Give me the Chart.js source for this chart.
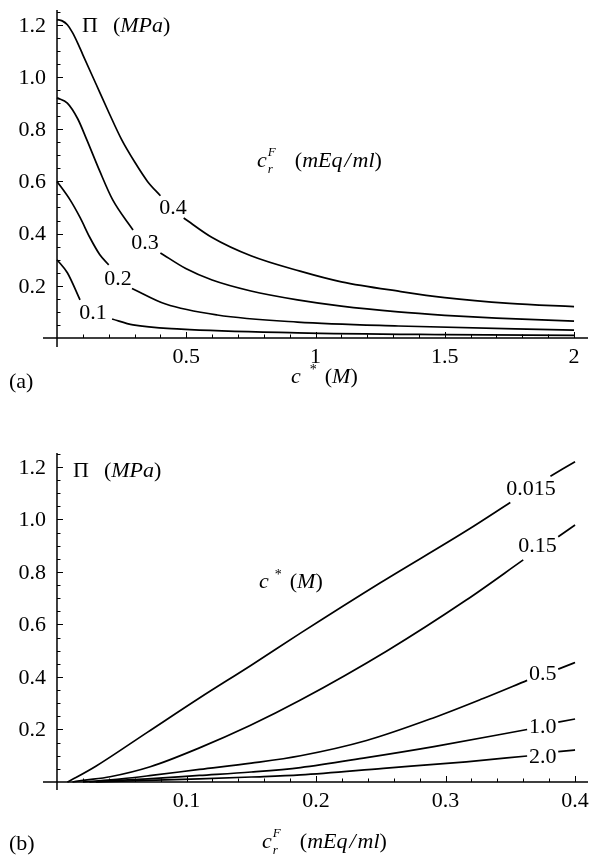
<!DOCTYPE html>
<html>
<head>
<meta charset="UTF-8">
<title>Osmotic pressure curves</title>
<script src="https://cdn.jsdelivr.net/npm/chart.js"></script>
<style>
  body { margin: 0; background: #fff; }
  .panel { position: absolute; left: 0; }
  #wrapA { top: 0; }
  #wrapB { top: 433px; }
</style>
</head>
<body>
<div class="panel" id="wrapA"><canvas id="chartA" width="602" height="433"></canvas></div>
<div class="panel" id="wrapB"><canvas id="chartB" width="602" height="434"></canvas></div>
<script>
// ---- panel (a): Π (MPa) vs c* (M), one curve per c_r^F (mEq/ml)
const aNames = ['0.1', '0.2', '0.3', '0.4'];
const aCurve01x = [0, 0.04, 0.089, null, 0.213, 0.294, 0.48, 0.93, 1.5, 2.0];
const aCurve01y = [0.30, 0.25, 0.146, null, 0.073, 0.050, 0.034, 0.020, 0.013, 0.010];
const aCurve02x = [0, 0.05, 0.09, 0.127, 0.165, 0.20, null, 0.29, 0.42, 0.62, 0.93, 1.32, 2.0];
const aCurve02y = [0.60, 0.53, 0.46, 0.385, 0.32, 0.28, null, 0.19, 0.13, 0.088, 0.061, 0.046, 0.030];
const aCurve03x = [0, 0.04, 0.08, 0.115, 0.165, 0.215, 0.294, null, 0.40, 0.50, 0.60, 0.75, 0.93, 1.1, 1.32, 1.5, 1.7, 2.0];
const aCurve03y = [0.92, 0.90, 0.84, 0.76, 0.64, 0.53, 0.414, null, 0.326, 0.265, 0.222, 0.18, 0.146, 0.122, 0.10, 0.087, 0.076, 0.065];
const aCurve04x = [0, 0.02, 0.04, 0.06, 0.08, 0.10, 0.15, 0.20, 0.25, 0.30, 0.35, 0.40, null, 0.49, 0.60, 0.75, 0.94, 1.1, 1.33, 1.5, 1.75, 2.0];
const aCurve04y = [1.22, 1.215, 1.20, 1.17, 1.13, 1.085, 0.975, 0.865, 0.76, 0.675, 0.60, 0.545, null, 0.46, 0.385, 0.315, 0.256, 0.215, 0.178, 0.155, 0.133, 0.12];
const aNameAtX = [0.139, 0.236, 0.34, 0.449];
const aNameAtY = [0.10, 0.23, 0.368, 0.502];
const aXTicks = [0.5, 1, 1.5, 2];
const aXTickText = ['0.5', '1', '1.5', '2'];
const aYTicks = [0.2, 0.4, 0.6, 0.8, 1.0, 1.2];
const aYTickText = ['0.2', '0.4', '0.6', '0.8', '1.0', '1.2'];

// ---- panel (b): Π (MPa) vs c_r^F (mEq/ml), one curve per c* (M)
const bNames = ['0.015', '0.15', '0.5', '1.0', '2.0'];
const bCurve0015x = [0.008, 0.015, 0.03, 0.07, 0.11, 0.15, 0.188, 0.25, 0.317, 0.35, null, 0.381, 0.40];
const bCurve0015y = [0, 0.018, 0.06, 0.19, 0.32, 0.445, 0.567, 0.76, 0.96, 1.065, null, 1.165, 1.22];
const bCurve015x = [0.012, 0.02, 0.041, 0.072, 0.11, 0.149, 0.188, 0.255, 0.316, 0.36, null, 0.387, 0.40];
const bCurve015y = [0, 0.006, 0.02, 0.058, 0.13, 0.215, 0.312, 0.50, 0.693, 0.846, null, 0.934, 0.979];
const bCurve05x = [0.02, 0.05, 0.073, 0.11, 0.15, 0.188, 0.239, 0.291, 0.329, 0.363, null, 0.387, 0.40];
const bCurve05y = [0, 0.012, 0.025, 0.048, 0.072, 0.10, 0.158, 0.245, 0.318, 0.387, null, 0.43, 0.455];
const bCurve10x = [0.025, 0.07, 0.11, 0.15, 0.188, 0.239, 0.291, 0.363, null, 0.387, 0.40];
const bCurve10y = [0, 0.012, 0.025, 0.038, 0.055, 0.093, 0.135, 0.20, null, 0.228, 0.24];
const bCurve20x = [0.03, 0.07, 0.11, 0.15, 0.188, 0.252, 0.316, 0.363, null, 0.387, 0.40];
const bCurve20y = [0, 0.006, 0.012, 0.019, 0.027, 0.052, 0.077, 0.099, null, 0.116, 0.122];
const bNameAtX = [0.366, 0.371, 0.375, 0.375, 0.375];
const bNameAtY = [1.12, 0.903, 0.415, 0.213, 0.099];
const bXTicks = [0.1, 0.2, 0.3, 0.4];
const bXTickText = ['0.1', '0.2', '0.3', '0.4'];
const bYTicks = [0.2, 0.4, 0.6, 0.8, 1.0, 1.2];
const bYTickText = ['0.2', '0.4', '0.6', '0.8', '1.0', '1.2'];

const SERIF = "'Liberation Serif', 'Times New Roman', Times, serif";

function pts(xs, ys) {
  return xs.map((x, i) => ({ x: x === null ? NaN : x, y: ys[i] }));
}

function curve(xs, ys) {
  return {
    data: pts(xs, ys),
    borderColor: '#000',
    borderWidth: 1.7,
    pointRadius: 0,
    fill: false,
    spanGaps: false,
    cubicInterpolationMode: 'monotone'
  };
}

// text made of pieces: [text, italic, size, dy, gapBefore, noAdvance]
function drawParts(ctx, x, y, parts) {
  let cx = x;
  ctx.textAlign = 'left';
  ctx.textBaseline = 'alphabetic';
  parts.forEach(p => {
    const [t, it, size, dy, gap] = p;
    ctx.font = (it ? 'italic ' : '') + size + 'px ' + SERIF;
    cx += gap || 0;
    ctx.fillText(t, cx, y + (dy || 0));
    if (!p[5]) cx += ctx.measureText(t).width;
  });
}

function axesPlugin(cfg) {
  return {
    id: 'mmaAxes',
    afterDraw(chart) {
      const ctx = chart.ctx;
      const xs = chart.scales.x, ys = chart.scales.y, area = chart.chartArea;
      const x0 = xs.getPixelForValue(0), y0 = ys.getPixelForValue(0);
      ctx.save();
      ctx.strokeStyle = '#000';
      ctx.fillStyle = '#000';
      ctx.lineWidth = 1.5;
      ctx.beginPath();
      ctx.moveTo(area.left, y0); ctx.lineTo(area.right, y0);
      ctx.moveTo(x0, area.top); ctx.lineTo(x0, area.bottom);
      ctx.stroke();

      // minor + major ticks, pointing into the plot
      ctx.lineWidth = 1;
      ctx.beginPath();
      for (let k = 1; k * cfg.xMinor <= xs.max + 1e-9; k++) {
        const v = k * cfg.xMinor;
        const px = Math.round(xs.getPixelForValue(v)) + 0.5;
        const major = cfg.xTicks.some(t => Math.abs(t - v) < 1e-9);
        ctx.moveTo(px, y0); ctx.lineTo(px, y0 - (major ? 6 : 3.5));
      }
      for (let k = 1; k * cfg.yMinor <= ys.max + 1e-9; k++) {
        const v = k * cfg.yMinor;
        const py = Math.round(ys.getPixelForValue(v)) + 0.5;
        const major = cfg.yTicks.some(t => Math.abs(t - v) < 1e-9);
        ctx.moveTo(x0, py); ctx.lineTo(x0 + (major ? 6 : 3.5), py);
      }
      ctx.stroke();

      // tick labels
      ctx.font = '22px ' + SERIF;
      ctx.textAlign = 'center';
      ctx.textBaseline = 'alphabetic';
      cfg.xTicks.forEach((v, i) => ctx.fillText(cfg.xTickText[i], xs.getPixelForValue(v), y0 + 25));
      ctx.textAlign = 'right';
      ctx.textBaseline = 'middle';
      cfg.yTicks.forEach((v, i) => ctx.fillText(cfg.yTickText[i], 46, ys.getPixelForValue(v) + 1));

      // curve names
      ctx.textAlign = 'center';
      ctx.textBaseline = 'middle';
      cfg.names.forEach((n, i) => ctx.fillText(n, xs.getPixelForValue(cfg.nameX[i]), ys.getPixelForValue(cfg.nameY[i]) + 1));

      cfg.texts(ctx);
      ctx.restore();
    }
  };
}

function makeChart(id, datasets, xr, yr, pad, cfg) {
  return new Chart(document.getElementById(id), {
    type: 'line',
    data: { datasets },
    options: {
      responsive: false,
      animation: false,
      devicePixelRatio: 1,
      layout: { padding: pad },
      plugins: { legend: { display: false }, tooltip: { enabled: false } },
      scales: {
        x: { type: 'linear', min: xr[0], max: xr[1], display: false },
        y: { type: 'linear', min: yr[0], max: yr[1], display: false }
      }
    },
    plugins: [axesPlugin(cfg)]
  });
}

makeChart('chartA',
  [curve(aCurve01x, aCurve01y), curve(aCurve02x, aCurve02y), curve(aCurve03x, aCurve03y), curve(aCurve04x, aCurve04y)],
  [-0.0542, 2.054], [-0.0345, 1.2567],
  { left: 43, right: 14, top: 10, bottom: 86 },
  {
    xTicks: aXTicks, xTickText: aXTickText, yTicks: aYTicks, yTickText: aYTickText,
    xMinor: 0.1, yMinor: 0.05,
    names: aNames, nameX: aNameAtX, nameY: aNameAtY,
    texts(ctx) {
      drawParts(ctx, 82, 32, [['Π', 0, 22], ['(', 0, 22, 0, 15], ['MPa', 1, 22], [')', 0, 22]]);
      drawParts(ctx, 257, 167, [['c', 1, 22], ['F', 1, 13, -11, 1, 1], ['r', 1, 13, 6, 0], ['(', 0, 22, 0, 22], ['mEq', 1, 22], ['/', 1, 22, 0, 2], ['ml', 1, 22, 0, 2], [')', 0, 22]]);
      drawParts(ctx, 291, 383, [['c', 1, 22], ['*', 0, 14, -9, 9], ['(', 0, 22, 0, 8], ['M', 1, 22], [')', 0, 22]]);
      drawParts(ctx, 9, 388, [['(a)', 0, 22]]);
    }
  });

makeChart('chartB',
  [curve(bCurve0015x, bCurve0015y), curve(bCurve015x, bCurve015y), curve(bCurve05x, bCurve05y), curve(bCurve10x, bCurve10y), curve(bCurve20x, bCurve20y)],
  [-0.0108, 0.41], [-0.0305, 1.2533],
  { left: 43, right: 14, top: 20, bottom: 77 },
  {
    xTicks: bXTicks, xTickText: bXTickText, yTicks: bYTicks, yTickText: bYTickText,
    xMinor: 0.02, yMinor: 0.05,
    names: bNames, nameX: bNameAtX, nameY: bNameAtY,
    texts(ctx) {
      drawParts(ctx, 73, 44, [['Π', 0, 22], ['(', 0, 22, 0, 15], ['MPa', 1, 22], [')', 0, 22]]);
      drawParts(ctx, 259, 155, [['c', 1, 22], ['*', 0, 14, -9, 6], ['(', 0, 22, 0, 8], ['M', 1, 22], [')', 0, 22]]);
      drawParts(ctx, 262, 415, [['c', 1, 22], ['F', 1, 13, -11, 1, 1], ['r', 1, 13, 6, 0], ['(', 0, 22, 0, 22], ['mEq', 1, 22], ['/', 1, 22, 0, 2], ['ml', 1, 22, 0, 2], [')', 0, 22]]);
      drawParts(ctx, 9, 417, [['(b)', 0, 22]]);
    }
  });
</script>
</body>
</html>
